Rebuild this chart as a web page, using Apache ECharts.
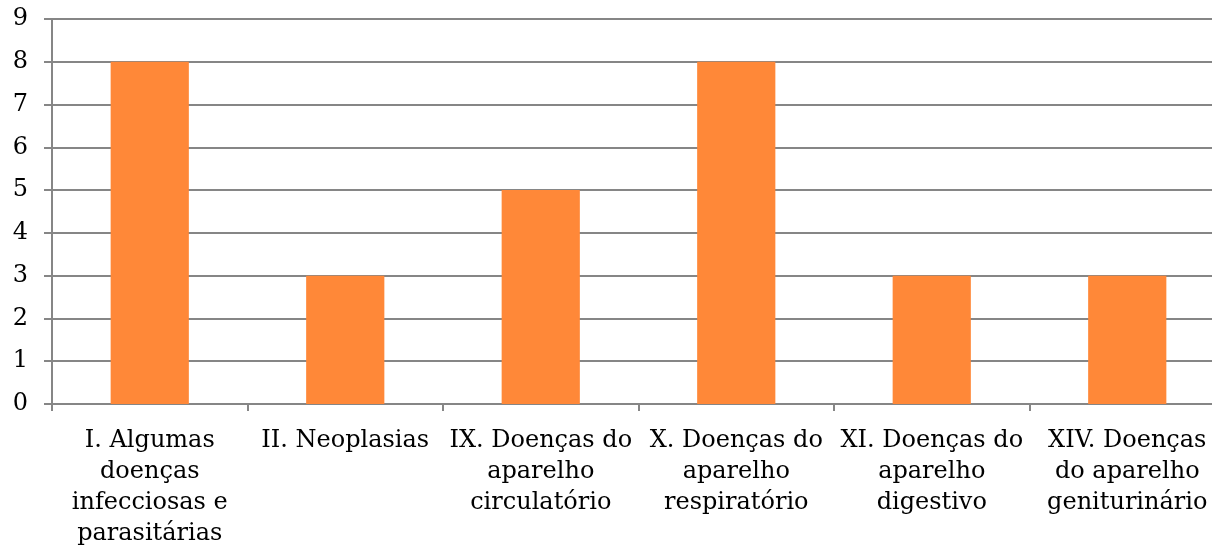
<!DOCTYPE html>
<html>
<head>
<meta charset="utf-8">
<script src="https://cdn.jsdelivr.net/npm/echarts@6/dist/echarts.min.js"></script>
<style>
  html, body { margin: 0; padding: 0; background: #fff; overflow: hidden; }
  #chart { width: 1226px; height: 547px; }
</style>
</head>
<body>
<div id="chart"></div>
<script>
// dados
var categories = [
    'I. Algumas\ndoenças\ninfecciosas e\nparasitárias',
    'II. Neoplasias',
    'IX. Doenças do\naparelho\ncirculatório',
    'X. Doenças do\naparelho\nrespiratório',
    'XI. Doenças do\naparelho\ndigestivo',
    'XIV. Doenças\ndo aparelho\ngeniturinário'
];
var values = [8, 3, 5, 8, 3, 3];
var yTicks = [0, 1, 2, 3, 4, 5, 6, 7, 8, 9];

var chart = echarts.init(document.getElementById('chart'));
var grey = '#868686';
var font = 'DejaVu Serif';

var option = {
    animation: false,
    grid: { left: 52, right: 1, top: 19, bottom: 143, outerBoundsMode: 'none' },
    xAxis: {
        type: 'category',
        data: categories,
        axisLine: { lineStyle: { color: grey, width: 2 } },
        axisTick: { show: true, length: 7, lineStyle: { color: grey, width: 2 } },
        axisLabel: {
            interval: 0,
            margin: 21,
            color: '#000',
            fontFamily: font,
            fontSize: 24,
            lineHeight: 31,
            align: 'center'
        }
    },
    yAxis: {
        type: 'value',
        min: yTicks[0],
        max: yTicks[yTicks.length - 1],
        interval: 1,
        axisLine: { show: true, lineStyle: { color: grey, width: 2 } },
        axisTick: { show: true, length: 8, lineStyle: { color: grey, width: 2 } },
        splitLine: { show: true, lineStyle: { color: grey, width: 2 } },
        axisLabel: {
            margin: 24,
            color: '#000',
            fontFamily: font,
            fontSize: 24
        }
    },
    series: [{
        type: 'bar',
        data: values,
        barWidth: '40%',
        itemStyle: { color: '#FF8838' }
    }]
};

chart.setOption(option);
</script>
</body>
</html>
